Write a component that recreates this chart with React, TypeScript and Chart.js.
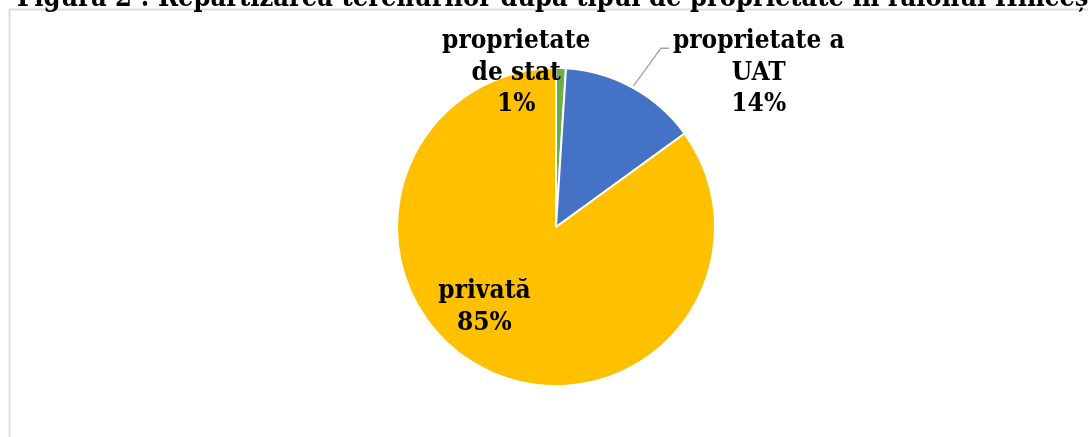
import React, { useEffect, useRef } from "react";
import { Chart, registerables } from "chart.js";

Chart.register(...registerables);

const TITLE = "Figura 2 : Repartizarea terenurilor după tipul de proprietate în raionul Hîncești";
const categories = ["proprietate de stat", "proprietate a UAT", "privată"];
const values = [1, 14, 85];
const labelLines = [
  ["proprietate", "de stat", "1%"],
  ["proprietate a", "UAT", "14%"],
  ["privată", "85%"],
];
const colors = ["#70AD47", "#4472C4", "#FFC000"];

const FONT = '"DejaVu Serif Condensed", "DejaVu Serif", serif';

// label block centers, in units of the pie radius relative to its centre
const labelOffsets = [
  [-0.25, -0.97],
  [1.275, -0.97],
  [-0.45, 0.506],
];

const decorPlugin = {
  id: "decor",
  beforeDraw(chart: any) {
    const { ctx, width, height } = chart;
    ctx.save();
    ctx.fillStyle = "#ffffff";
    ctx.fillRect(0, 0, width, height);
    ctx.strokeStyle = "#d9d9d9";
    ctx.lineWidth = 1.8;
    ctx.strokeRect(9.5, 9.5, width + 20, height + 20);
    ctx.fillStyle = "#000000";
    ctx.font = `bold 27px ${FONT}`;
    ctx.textBaseline = "alphabetic";
    ctx.textAlign = "left";
    ctx.fillText(TITLE, 17, 6);
    ctx.restore();
  },
  afterDatasetsDraw(chart: any) {
    const { ctx } = chart;
    const meta = chart.getDatasetMeta(0);
    if (!meta.data.length) return;
    const arc0: any = meta.data[0];
    const cx = arc0.x;
    const cy = arc0.y;
    const r = arc0.outerRadius;
    ctx.save();
    // leader line for the UAT label
    const a1: any = meta.data[1];
    const mid = (a1.startAngle + a1.endAngle) / 2;
    const sx = cx + Math.cos(mid) * (r + 2);
    const sy = cy + Math.sin(mid) * (r + 2);
    ctx.strokeStyle = "#a6a6a6";
    ctx.lineWidth = 1.5;
    ctx.beginPath();
    ctx.moveTo(sx, sy);
    ctx.lineTo(cx + 0.66 * r, cy - 1.125 * r);
    ctx.lineTo(cx + 0.71 * r, cy - 1.125 * r);
    ctx.stroke();

    ctx.fillStyle = "#000000";
    ctx.font = `bold 26px ${FONT}`;
    ctx.textAlign = "center";
    ctx.textBaseline = "middle";
    const lh = 31.5;
    labelLines.forEach((lines, i) => {
      const [fx, fy] = labelOffsets[i];
      const bx = cx + fx * r;
      const by = cy + fy * r;
      lines.forEach((t, j) => {
        ctx.fillText(t, bx, by + (j - (lines.length - 1) / 2) * lh);
      });
    });
    ctx.restore();
  },
};

export default function App() {
  const ref = useRef<HTMLCanvasElement | null>(null);
  useEffect(() => {
    if (!ref.current) return;
    const chart = new Chart(ref.current, {
      type: "pie",
      data: {
        labels: categories,
        datasets: [
          {
            data: values,
            backgroundColor: colors,
            borderColor: "#ffffff",
            borderWidth: 2,
          },
        ],
      },
      options: {
        animation: false,
        responsive: true,
        maintainAspectRatio: false,
        layout: { padding: { top: 67, bottom: 50, left: 24, right: 0 } },
        plugins: {
          legend: { display: false },
          tooltip: { enabled: false },
          title: { display: false },
        },
      },
      plugins: [decorPlugin],
    });
    return () => chart.destroy();
  }, []);
  return (
    <div style={{ position: "fixed", left: 0, top: 0, width: 1088, height: 437 }}>
      <canvas ref={ref} />
    </div>
  );
}
